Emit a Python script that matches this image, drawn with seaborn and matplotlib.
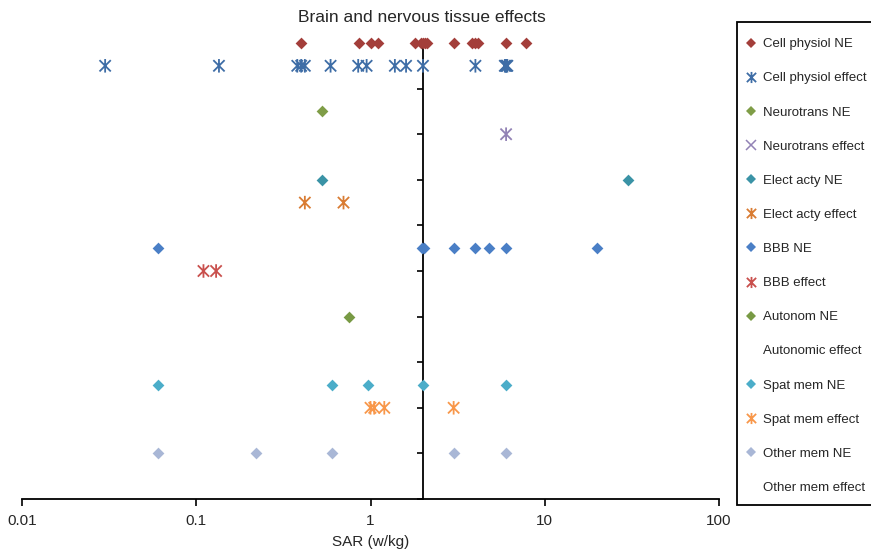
import numpy as np
import pandas as pd
import matplotlib
matplotlib.use("Agg")
import matplotlib.pyplot as plt
from matplotlib.path import Path
from matplotlib.lines import Line2D
from matplotlib.patches import Rectangle
import seaborn as sns

# SAR values (W/kg) for each study group, one row per series
cell_physiol_ne = [0.4, 0.86, 1.0, 1.11, 1.8, 1.95, 2.0, 2.05, 2.1, 3.0, 3.8, 4.0, 4.15, 6.0, 7.8]
cell_physiol_eff = [0.03, 0.135, 0.38, 0.4, 0.42, 0.59, 0.85, 0.95, 1.38, 1.6, 2.0, 4.0,
                    5.9, 6.0, 6.0, 6.1]
neurotrans_ne = [0.53]
neurotrans_eff = [6.0]
elect_acty_ne = [0.53, 30.0]
elect_acty_eff = [0.42, 0.7]
bbb_ne = [0.06, 1.98, 2.03, 3.0, 4.0, 4.8, 6.0, 20.0]
bbb_eff = [0.11, 0.13]
autonom_ne = [0.75]
autonomic_eff = []
spat_mem_ne = [0.06, 0.6, 0.97, 2.0, 6.0]
spat_mem_eff = [1.0, 1.05, 1.2, 3.0]
other_mem_ne = [0.06, 0.22, 0.6, 3.0, 6.0]
other_mem_eff = []

series_names = ["Cell physiol NE", "Cell physiol effect", "Neurotrans NE", "Neurotrans effect",
                "Elect acty NE", "Elect acty effect", "BBB NE", "BBB effect",
                "Autonom NE", "Autonomic effect", "Spat mem NE", "Spat mem effect",
                "Other mem NE", "Other mem effect"]
series_values = [cell_physiol_ne, cell_physiol_eff, neurotrans_ne, neurotrans_eff,
                 elect_acty_ne, elect_acty_eff, bbb_ne, bbb_eff,
                 autonom_ne, autonomic_eff, spat_mem_ne, spat_mem_eff,
                 other_mem_ne, other_mem_eff]
# vertical level of each series
series_levels = [10, 9.5, 8.5, 8, 7, 6.5, 5.5, 5, 4, 3.5, 2.5, 2, 1, 0.5]

colors = ["#A33E3A", "#3E6DA6", "#7F9D47", "#9282B5", "#3A93A6", "#D97C33", "#4A7FC6",
          "#C9504D", "#789A44", "#4BACC6", "#4BADC9", "#F8974A", "#A9B7D6", "#7F7F7F"]

# Excel-style asterisk: an X with a vertical bar
asterisk = Path([(-1, -1), (1, 1), (-1, 1), (1, -1), (0, -1.2), (0, 1.2)],
                [Path.MOVETO, Path.LINETO, Path.MOVETO, Path.LINETO, Path.MOVETO, Path.LINETO])

sns.set_style("white")
plt.rcParams["font.family"] = ["Liberation Sans", "DejaVu Sans"]

fig = plt.figure(figsize=(8.71, 5.51), dpi=100)
ax = fig.add_axes([22 / 871, 52 / 551, (719 - 22) / 871, (499 - 43) / 551])

rows = []
for name, vals, lvl in zip(series_names, series_values, series_levels):
    for v in vals:
        rows.append({"series": name, "SAR": v, "level": lvl})
df = pd.DataFrame(rows)

handles = []
for name, col in zip(series_names, colors):
    sub = df[df["series"] == name]
    is_ne = name.endswith("NE")
    if len(sub):
        if is_ne:
            sns.scatterplot(data=sub, x="SAR", y="level", ax=ax, marker="D", s=36,
                            color=col, edgecolor=col, linewidth=0, clip_on=False, zorder=3)
        else:
            sns.scatterplot(data=sub, x="SAR", y="level", ax=ax, marker=asterisk, s=95,
                            color=col, edgecolor=col, facecolor="none", linewidth=1.3,
                            clip_on=False, zorder=3)
    if not len(sub):
        handles.append(Line2D([], [], linestyle="none", marker=None))
    elif is_ne:
        handles.append(Line2D([], [], linestyle="none", marker="D", markersize=5,
                              color=col, markeredgewidth=0))
    elif name == "Neurotrans effect":
        handles.append(Line2D([], [], linestyle="none", marker="x", markersize=7.5,
                              color=col, markeredgewidth=1.1))
    else:
        handles.append(Line2D([], [], linestyle="none", marker=asterisk, markersize=8,
                              color=col, markeredgewidth=1.3))

ax.set_xscale("log")
ax.set_xlim(0.01, 100)
ax.set_ylim(0, 10)
ax.set_xticks([0.01, 0.1, 1, 10, 100])
ax.set_xticklabels(["0.01", "0.1", "1", "10", "100"])
ax.xaxis.set_minor_locator(matplotlib.ticker.NullLocator())
ax.set_yticks(np.arange(0, 11, 1))
ax.set_yticklabels([])

for side in ["top", "right"]:
    ax.spines[side].set_visible(False)
ax.spines["left"].set_position(("data", 2))
ax.spines["left"].set_color("black")
ax.spines["left"].set_linewidth(1.3)
ax.spines["bottom"].set_color("black")
ax.spines["bottom"].set_linewidth(1.3)
ax.tick_params(axis="x", direction="out", length=5, width=1.2, color="black",
               labelsize=11, pad=6, bottom=True)
ax.tick_params(axis="y", direction="out", length=4, width=1.2, color="black", left=True)

ax.set_xlabel("SAR (w/kg)", fontsize=11, labelpad=5)
ax.set_ylabel("")

fig.text(422 / 871, 1 - 17 / 551, "Brain and nervous tissue effects", ha="center",
         va="center", fontsize=12.5)

# legend box
fig.patches.append(Rectangle((737 / 871, 1 - 505 / 551), (875 - 737) / 871, (505 - 22) / 551,
                             transform=fig.transFigure, facecolor="white",
                             edgecolor="black", linewidth=1.3, zorder=1))
leg = fig.legend(handles, series_names, loc="upper left",
                 bbox_to_anchor=(745 / 871, 1 - 38 / 551), fontsize=9.5,
                 frameon=False, labelspacing=1.66, handlelength=0.95,
                 handletextpad=0.4, borderpad=0, borderaxespad=0)
leg.set_zorder(2)

fig.savefig("out.png", dpi=100)
